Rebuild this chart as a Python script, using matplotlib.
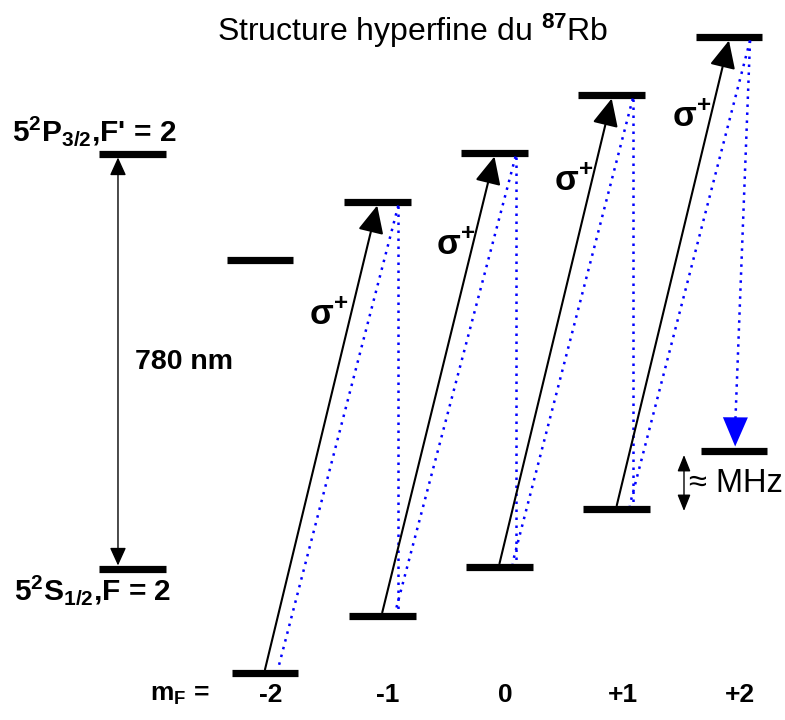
import matplotlib.pyplot as plt

# Zeeman sublevels of 87Rb (energies in arbitrary units)
m_f = [-2, -1, 0, 1, 2]
m_f_labels = ['-2', '-1', '0', '+1', '+2']
e_ground = [47, 104, 153, 211, 269]      # 5S1/2, F=2
e_excited = [460, 518, 567, 625, 683]    # 5P3/2, F'=2
e_s12 = 151
e_p32 = 566

plt.rcParams['font.family'] = ['Liberation Sans', 'DejaVu Sans']
plt.rcParams['mathtext.fontset'] = 'custom'
plt.rcParams['mathtext.rm'] = 'Liberation Sans'
plt.rcParams['mathtext.bf'] = 'Liberation Sans:bold'
plt.rcParams['mathtext.it'] = 'Liberation Sans:italic'

fig = plt.figure(figsize=(7.85, 7.2), dpi=100)
ax = fig.add_axes([0, 0, 1, 1])
ax.set_xlim(-4.26, 2.435)
ax.set_ylim(0, 720)
ax.axis('off')


def xpx(p):
    # pixel column -> m_F axis units (for text placement)
    return (p - 265) / 117.25 - 2


hw = 0.285          # half width of a level bar
shift = -0.043      # excited bars sit slightly to the left
bar = dict(color='black', lw=5.2, capstyle='butt')
blue = '#0000ff'
half = 3.5          # half thickness of a bar in y units

xg = list(m_f)
xe = [m + shift for m in m_f]
ax.hlines(e_ground, [x - hw for x in xg], [x + hw for x in xg], **bar)
ax.hlines(e_excited, [x - hw for x in xe], [x + hw for x in xe], **bar)

# reference levels on the left
x_ref = -3.13
ax.hlines([e_p32, e_s12], x_ref - hw, x_ref + hw, **bar)
ax.annotate('', xy=(xpx(118), e_p32 - half), xytext=(xpx(118), e_s12 + half),
            arrowprops=dict(arrowstyle='<|-|>,head_length=0.55,head_width=0.25',
                            color='black', lw=1.0, shrinkA=0, shrinkB=0, mutation_scale=20))
ax.text(xpx(184), 358, '780 nm', ha='center', va='center', fontsize=20.5, fontweight='bold')

# sigma+ pumping transitions
sig_pos = [(329, 314), (456, 245), (574, 181), (692, 116)]
for i in range(4):
    ax.annotate('', xy=(xe[i + 1], e_excited[i + 1] - half), xytext=(xg[i], e_ground[i] + half),
                arrowprops=dict(arrowstyle='-|>,head_length=0.85,head_width=0.4',
                                color='black', lw=1.5, shrinkA=0, shrinkB=0, mutation_scale=20))
    px, py = sig_pos[i]
    ax.text(xpx(px), 720 - py, r'σ$^\mathbf{+}$', ha='center', va='center',
            fontsize=25, fontweight='bold')

# spontaneous decay (dotted)
dots = dict(color=blue, lw=1.8, linestyle=(0, (1, 2.2)))
for i in range(1, 5):
    x0 = xe[i] + 0.18
    y0 = e_excited[i] - half
    ax.plot([x0, xg[i - 1] + 0.11], [y0, e_ground[i - 1] + half], **dots)
    if i < 4:
        ax.plot([x0, x0], [y0, e_ground[i] + half], **dots)
    else:
        tip = (xg[i] + 0.01, e_ground[i] + half + 1)
        ax.plot([x0, tip[0]], [y0, tip[1] + 20], **dots)
        ax.annotate('', xy=tip, xytext=(tip[0] + 0.002, tip[1] + 30),
                    arrowprops=dict(arrowstyle='-|>,head_length=1.05,head_width=0.45',
                                    color=blue, lw=0, shrinkA=0, shrinkB=0, mutation_scale=20))

# Zeeman splitting marker
ax.annotate('', xy=(xpx(684), 265), xytext=(xpx(684), 209),
            arrowprops=dict(arrowstyle='<|-|>,head_length=0.5,head_width=0.2',
                            color='black', lw=1.0, shrinkA=0, shrinkB=0, mutation_scale=20))
ax.text(xpx(689), 236, '≈ MHz', ha='left', va='center', fontsize=23.5)

# labels
ax.text(xpx(12), 589, r"5$^\mathbf{2}$P$_\mathbf{3/2}$,F' = 2", ha='left', va='center',
        fontsize=21.5, fontweight='bold')
ax.text(xpx(14), 130, r"5$^\mathbf{2}$S$_\mathbf{1/2}$,F = 2", ha='left', va='center',
        fontsize=21.5, fontweight='bold')
ax.text(xpx(413), 689, r'Structure hyperfine du $^{\mathbf{87}}$Rb', ha='center', va='center',
        fontsize=23)

ax.text(xpx(180), 25, r'm$_\mathbf{F}$ =', ha='center', va='center', fontsize=19, fontweight='bold')
for m, lab in zip(m_f, m_f_labels):
    ax.text(m + 0.05, 25, lab, ha='center', va='center', fontsize=19, fontweight='bold')

fig.savefig('out.png', dpi=100)
